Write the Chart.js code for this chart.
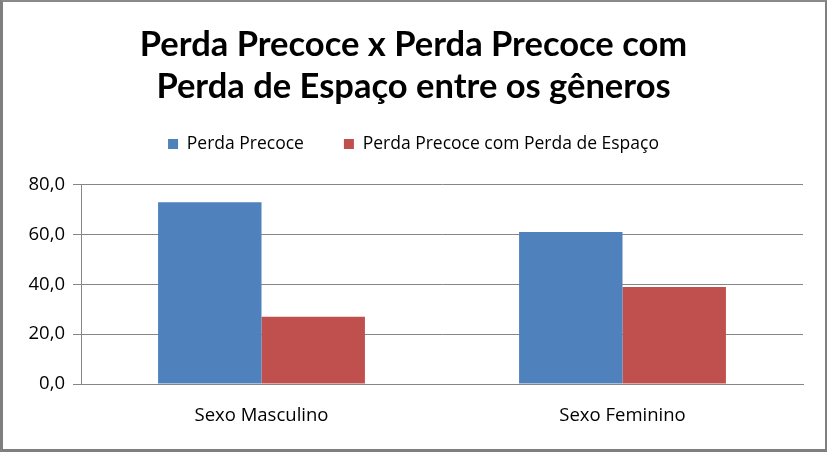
<!DOCTYPE html>
<html>
<head>
<meta charset="utf-8">
<script src="https://cdn.jsdelivr.net/npm/chart.js@4"></script>
<style>
  html, body { margin: 0; padding: 0; background: #fff; }
  #wrap {
    position: absolute; left: 0; top: 0;
    width: 822px; height: 447px;
    border-left: 3px solid #7f7f7f; border-top: 2px solid #8a8a8a;
    border-right: 2px solid #7f7f7f; border-bottom: 3px solid #7f7f7f;
  }
</style>
</head>
<body>
<div id="wrap"><canvas id="c" width="822" height="447"></canvas></div>
<script>
const categories = ["Sexo Masculino", "Sexo Feminino"];
const perdaPrecoce = [73, 61];
const perdaComEspaco = [27, 39];
const seriesNames = ["Perda Precoce", "Perda Precoce com Perda de Espaço"];
const titleLines = ["Perda Precoce x Perda Precoce com", "Perda de Espaço entre os gêneros"];

const titleFont = "Lato, 'Open Sans', sans-serif";
const font = "'Open Sans', Lato, sans-serif";

// extra room under the legend, before the plot area
const legendGap = {
    id: "legendGap",
    beforeLayout(chart) {
        const lg = chart.legend;
        if (lg && !lg._gapPatched) {
            const fit = lg.fit.bind(lg);
            lg.fit = function () { fit(); this.height += 22; };
            lg._gapPatched = true;
        }
    }
};

const chart = new Chart(document.getElementById("c"), {
    type: "bar",
    data: {
        labels: categories,
        datasets: [
            { label: seriesNames[0], data: perdaPrecoce, backgroundColor: "#4f81bd" },
            { label: seriesNames[1], data: perdaComEspaco, backgroundColor: "#c0504d" }
        ]
    },
    options: {
        responsive: false,
        animation: false,
        devicePixelRatio: 1,
        categoryPercentage: 0.573,
        barPercentage: 1,
        layout: { padding: { left: 13, right: 14, top: 0, bottom: 0 } },
        plugins: {
            title: {
                display: true,
                text: titleLines,
                color: "#000",
                font: { family: titleFont, size: 34.5, weight: "bold", lineHeight: 1.207 },
                padding: { top: 22, bottom: -12 }
            },
            legend: {
                labels: {
                    color: "#000",
                    font: { family: font, size: 17.5 },
                    boxWidth: 10, boxHeight: 10,
                    padding: 40
                }
            },
            tooltip: { enabled: false }
        },
        scales: {
            x: {
                afterFit: s => { s.height = 65; },
                grid: { display: false },
                border: { color: "#868686", width: 1 },
                ticks: { color: "#000", font: { family: font, size: 18.5 }, padding: 13 }
            },
            y: {
                min: 0, max: 80,
                afterFit: s => { s.width = 65; },
                grid: { color: "#868686", tickLength: 8, tickColor: "#868686" },
                border: { color: "#868686", width: 1 },
                ticks: {
                    stepSize: 20,
                    color: "#000",
                    font: { family: font, size: 18.5 },
                    padding: 8,
                    callback: v => v.toFixed(1).replace(".", ",")
                }
            },
            y2: {
                position: "right",
                afterFit: s => { s.width = 8; },
                grid: { display: false },
                border: { display: false },
                ticks: { display: false }
            }
        }
    },
    plugins: [legendGap]
});
</script>
</body>
</html>
